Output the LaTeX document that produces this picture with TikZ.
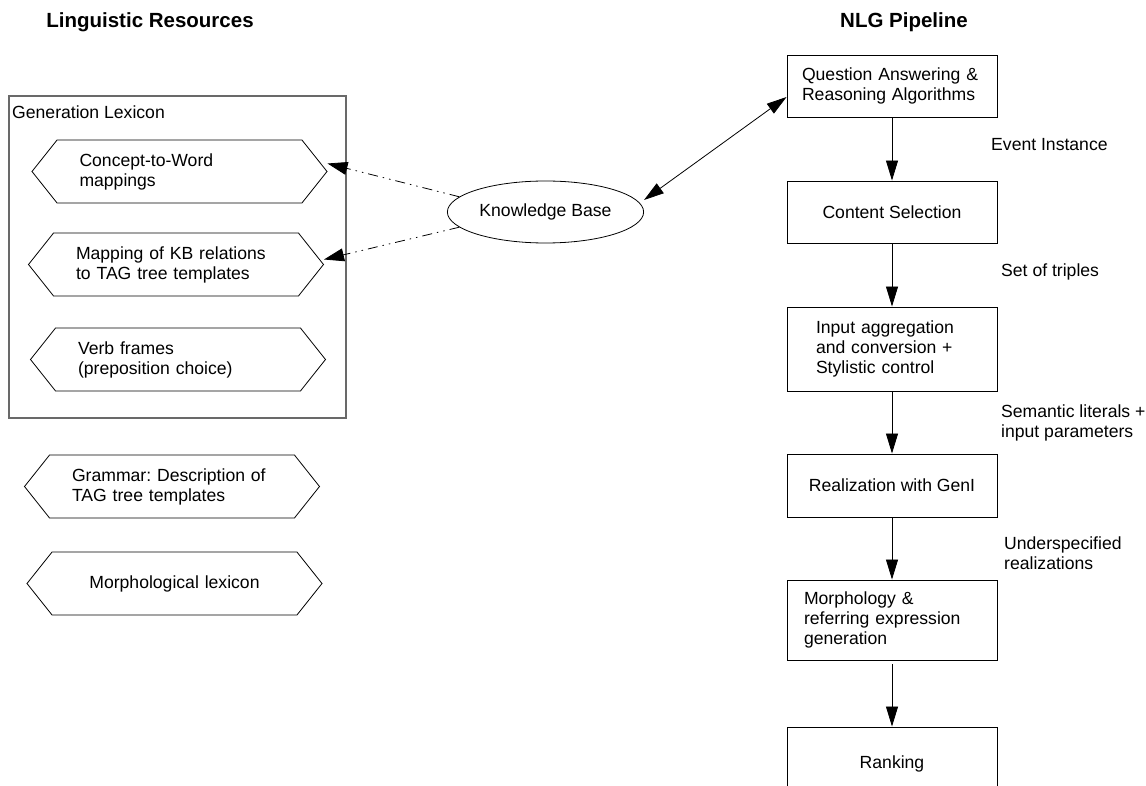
\documentclass[tikz,border=0pt]{standalone}
\usepackage{fontspec}
\setmainfont{Liberation Sans}
\usepackage{tikz}
\usetikzlibrary{arrows.meta,shapes,positioning}
\usepackage{xcolor}
\definecolor{framegray}{RGB}{105,105,105}
\tikzstyle{stage} = [draw, line width=0.9pt, minimum width=210pt, align=left]
\tikzstyle{resource} = [draw, line width=0.8pt, signal, signal to=west and east, signal pointer angle=103, minimum width=295pt, minimum height=63pt, text width=200pt, align=left]
\tikzstyle{flow} = [line width=0.8pt, -{Triangle[length=20pt,width=12pt]}]
\tikzstyle{lookup} = [line width=0.8pt, dash pattern=on 10pt off 5pt on 1.5pt off 5pt on 1.5pt off 5pt, -{Triangle[length=20pt,width=13pt]}]
\tikzstyle{edgelabel} = [anchor=west, align=left, inner sep=0pt]
\tikzstyle{heading} = [font=\fontsize{20.5}{24}\selectfont\bfseries]

\begin{document}
\frenchspacing
\begin{tikzpicture}[x=1pt, y=-1pt, font=\fontsize{17.6}{20}\selectfont]
\useasboundingbox (0,0) rectangle (1146,786);
\clip (0,0) rectangle (1146,786);
% Headings
\node[heading] (reshead) at (150,22) {Linguistic Resources};
\node[heading] (pipehead) at (904,22) {NLG Pipeline};

% Generation lexicon
\draw[framegray, line width=1.5pt] (9,96) rectangle (346,418);
\node[anchor=west, inner sep=0pt] (lexlabel) at (12,112) {Generation Lexicon};
\node[resource] (conceptmap) at (179.5,171.5) {Concept-to-Word\\mappings};
\node[resource] (relmap) at (176,264.5) {Mapping of KB relations\\to TAG tree templates};
\node[resource] (verbframes) at (178,359.5) {Verb frames\\(preposition choice)};

% Other resources
\node[resource] (grammar) at (172,486.5) {Grammar: Description of\\TAG tree templates};
\node[resource, align=center] (morphlex) at (174.5,583.5) {Morphological lexicon};

% Knowledge base
\node[draw, ellipse, line width=0.8pt, minimum width=189pt, minimum height=62pt] (kb) at (545.5,212) {Knowledge Base};

% NLG pipeline
\node[stage, minimum height=62pt, text width=180pt] (qa) at (892,86) {Question Answering \&\\Reasoning Algorithms};
\node[stage, minimum height=62pt, align=center] (select) at (892,212) {Content Selection};
\node[stage, minimum height=84pt, text width=152pt] (aggr) at (892,349) {Input aggregation\\and conversion +\\Stylistic control};
\node[stage, minimum height=63pt, align=center] (realize) at (892,485.5) {Realization with GenI};
\node[stage, minimum height=80pt, text width=176pt] (morph) at (892,620) {Morphology \&\\referring expression\\generation};
\node[stage, minimum height=74pt, align=center] (rank) at (892,764) {Ranking};

\draw[flow] (qa) -- (select);
\draw[flow] (select) -- (aggr);
\draw[flow] (aggr) -- (realize);
\draw[flow] (realize) -- (morph);
\draw[flow, shorten <=4pt] (morph) -- (rank);

\node[edgelabel] (evlabel) at (991,145) {Event Instance};
\node[edgelabel] (triplabel) at (1001,272) {Set of triples};
\node[edgelabel] (semlabel) at (1001,423) {Semantic literals +\\input parameters};
\node[edgelabel] (underlabel) at (1004,553) {Underspecified\\realizations};

% KB links
\draw[flow, {Triangle[length=20pt,width=12pt]}-{Triangle[length=20pt,width=12pt]}] ([yshift=12pt]kb.east) -- ([yshift=-11pt]qa.west);
\draw[lookup] (kb.170) -- ([yshift=8pt]conceptmap.east);
\draw[lookup] (kb.190) -- ([yshift=5pt]relmap.east);
\end{tikzpicture}
\end{document}
